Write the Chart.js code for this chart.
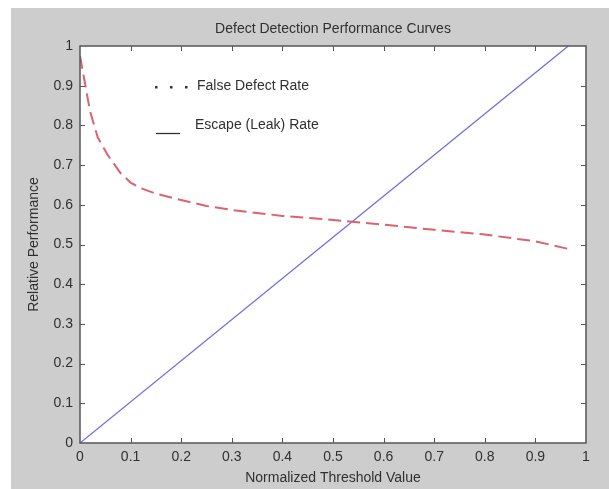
<!DOCTYPE html>
<html>
<head>
<meta charset="utf-8">
<script src="https://cdn.jsdelivr.net/npm/chart.js@4/dist/chart.umd.min.js"></script>
<style>
  html, body { margin: 0; padding: 0; background: #fff; }
  canvas { display: block; }
</style>
</head>
<body>
<canvas id="chart" width="609" height="489"></canvas>
<script>
// ── Data ──────────────────────────────────────────────────
const falseX = [0, 0.01, 0.02, 0.035, 0.055, 0.08, 0.1, 0.12, 0.15, 0.2, 0.25, 0.3, 0.4, 0.5, 0.6, 0.7, 0.8, 0.9, 0.965];
const falseY = [0.975, 0.905, 0.835, 0.77, 0.725, 0.68, 0.656, 0.642, 0.628, 0.612, 0.597, 0.587, 0.572, 0.562, 0.55, 0.537, 0.525, 0.508, 0.489];
const escapeX = [0, 0.5, 0.965];
const escapeY = [0, 0.518, 1];
const xTicks = [0, 0.1, 0.2, 0.3, 0.4, 0.5, 0.6, 0.7, 0.8, 0.9, 1];
const yTicks = [0, 0.1, 0.2, 0.3, 0.4, 0.5, 0.6, 0.7, 0.8, 0.9, 1];
const legendItems = ["False Defect Rate", "Escape (Leak) Rate"];

const FONT = "'Liberation Sans', Arial, sans-serif";
const TEXT = "#303030";
const SIZE = 14;

// ── Figure background, title, box, inward ticks, legend ───
const matlabFrame = {
  id: "matlabFrame",
  beforeDraw(chart) {
    const { ctx, chartArea: a, width, height } = chart;
    ctx.save();
    ctx.fillStyle = "#ffffff";
    ctx.fillRect(0, 0, width, height);
    ctx.fillStyle = "#cdcdcd";
    ctx.fillRect(11, 8, width - 11, height - 8);
    ctx.fillStyle = "#ffffff";
    ctx.fillRect(a.left, a.top, a.right - a.left, a.bottom - a.top);
    ctx.restore();
  },
  afterDraw(chart) {
    const { ctx, chartArea: a, scales } = chart;
    ctx.save();
    // box
    ctx.strokeStyle = "#555555";
    ctx.lineWidth = 1.5;
    ctx.strokeRect(a.left, a.top, a.right - a.left, a.bottom - a.top);
    // inward ticks on all sides
    ctx.lineWidth = 1;
    ctx.beginPath();
    xTicks.slice(1, -1).forEach(v => {
      const px = Math.round(scales.x.getPixelForValue(v)) + 0.5;
      ctx.moveTo(px, a.bottom); ctx.lineTo(px, a.bottom - 5);
      ctx.moveTo(px, a.top); ctx.lineTo(px, a.top + 5);
    });
    yTicks.slice(1, -1).forEach(v => {
      const py = Math.round(scales.y.getPixelForValue(v)) + 0.5;
      ctx.moveTo(a.left, py); ctx.lineTo(a.left + 5, py);
      ctx.moveTo(a.right, py); ctx.lineTo(a.right - 5, py);
    });
    ctx.stroke();

    // title
    ctx.fillStyle = TEXT;
    ctx.font = SIZE + "px " + FONT;
    ctx.textAlign = "center";
    ctx.textBaseline = "middle";
    ctx.fillText("Defect Detection Performance Curves", (a.left + a.right) / 2, 29);

    // legend (no box, black samples as in the original)
    ctx.textAlign = "left";
    ctx.fillText(legendItems[0], 197, 86);
    ctx.fillText(legendItems[1], 195, 125);
    ctx.fillStyle = "#333";
    [156, 171, 186].forEach(x => ctx.fillRect(x - 1, 86, 2.5, 2.5));
    ctx.strokeStyle = "#333";
    ctx.lineWidth = 1.3;
    ctx.beginPath();
    ctx.moveTo(156, 133.5); ctx.lineTo(180, 133.5);
    ctx.stroke();
    ctx.restore();
  }
};

new Chart(document.getElementById("chart"), {
  type: "line",
  data: {
    datasets: [
      {
        label: legendItems[0],
        data: falseX.map((x, i) => ({ x, y: falseY[i] })),
        borderColor: "rgb(220, 98, 110)",
        borderWidth: 2,
        borderDash: [13, 6],
        pointRadius: 0,
        tension: 0
      },
      {
        label: legendItems[1],
        data: escapeX.map((x, i) => ({ x, y: escapeY[i] })),
        borderColor: "rgb(112, 112, 226)",
        borderWidth: 1.3,
        pointRadius: 0,
        tension: 0
      }
    ]
  },
  options: {
    responsive: false,
    animation: false,
    layout: { padding: { left: 0, right: 23, top: 46, bottom: 0 } },
    plugins: {
      legend: { display: false },
      title: { display: false },
      tooltip: { enabled: false }
    },
    scales: {
      x: {
        type: "linear",
        min: 0,
        max: 1,
        afterFit: s => { s.height = 46; },
        afterBuildTicks: s => { s.ticks = xTicks.map(value => ({ value })); },
        grid: { display: false, drawTicks: false },
        border: { display: false },
        ticks: {
          padding: 6,
          color: TEXT,
          font: { family: FONT, size: SIZE },
          maxRotation: 0,
          callback: v => String(v)
        },
        title: {
          display: true,
          text: "Normalized Threshold Value",
          color: TEXT,
          font: { family: FONT, size: SIZE },
          padding: { top: 0, bottom: 2 }
        }
      },
      y: {
        type: "linear",
        min: 0,
        max: 1,
        afterFit: s => { s.width = 80; },
        afterBuildTicks: s => { s.ticks = yTicks.map(value => ({ value })); },
        grid: { display: false, drawTicks: false },
        border: { display: false },
        ticks: {
          padding: 7,
          color: TEXT,
          font: { family: FONT, size: SIZE },
          callback: v => String(v)
        },
        title: {
          display: true,
          text: "Relative Performance",
          color: TEXT,
          font: { family: FONT, size: SIZE },
          padding: { top: 26, bottom: 0 }
        }
      }
    }
  },
  plugins: [matlabFrame]
});
</script>
</body>
</html>
